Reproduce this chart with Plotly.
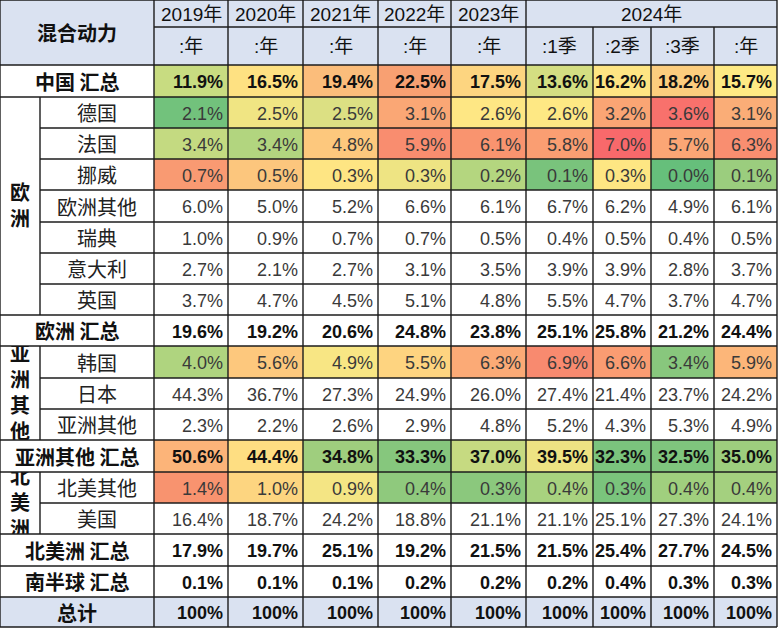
import plotly.graph_objects as go

# ---------------- data ----------------
title_cell = "混合动力"
year_labels = ["2019年", "2020年", "2021年", "2022年", "2023年", "2024年"]
period_labels = [":年", ":年", ":年", ":年", ":年", ":1季", ":2季", ":3季", ":年"]

row_labels = ["中国 汇总", "德国", "法国", "挪威", "欧洲其他", "瑞典", "意大利", "英国",
              "欧洲 汇总", "韩国", "日本", "亚洲其他", "亚洲其他 汇总", "北美其他", "美国",
              "北美洲 汇总", "南半球 汇总", "总计"]

china_total = [11.9, 16.5, 19.4, 22.5, 17.5, 13.6, 16.2, 18.2, 15.7]
germany = [2.1, 2.5, 2.5, 3.1, 2.6, 2.6, 3.2, 3.6, 3.1]
france = [3.4, 3.4, 4.8, 5.9, 6.1, 5.8, 7.0, 5.7, 6.3]
norway = [0.7, 0.5, 0.3, 0.3, 0.2, 0.1, 0.3, 0.0, 0.1]
europe_other = [6.0, 5.0, 5.2, 6.6, 6.1, 6.7, 6.2, 4.9, 6.1]
sweden = [1.0, 0.9, 0.7, 0.7, 0.5, 0.4, 0.5, 0.4, 0.5]
italy = [2.7, 2.1, 2.7, 3.1, 3.5, 3.9, 3.9, 2.8, 3.7]
uk = [3.7, 4.7, 4.5, 5.1, 4.8, 5.5, 4.7, 3.7, 4.7]
europe_total = [19.6, 19.2, 20.6, 24.8, 23.8, 25.1, 25.8, 21.2, 24.4]
korea = [4.0, 5.6, 4.9, 5.5, 6.3, 6.9, 6.6, 3.4, 5.9]
japan = [44.3, 36.7, 27.3, 24.9, 26.0, 27.4, 21.4, 23.7, 24.2]
asia_other = [2.3, 2.2, 2.6, 2.9, 4.8, 5.2, 4.3, 5.3, 4.9]
asia_other_total = [50.6, 44.4, 34.8, 33.3, 37.0, 39.5, 32.3, 32.5, 35.0]
na_other = [1.4, 1.0, 0.9, 0.4, 0.3, 0.4, 0.3, 0.4, 0.4]
usa = [16.4, 18.7, 24.2, 18.8, 21.1, 21.1, 25.1, 27.3, 24.1]
na_total = [17.9, 19.7, 25.1, 19.2, 21.5, 21.5, 25.4, 27.7, 24.5]
south_total = [0.1, 0.1, 0.1, 0.2, 0.2, 0.2, 0.4, 0.3, 0.3]
grand_total = [100, 100, 100, 100, 100, 100, 100, 100, 100]

row_values = [china_total, germany, france, norway, europe_other, sweden, italy, uk,
              europe_total, korea, japan, asia_other, asia_other_total, na_other, usa,
              na_total, south_total, grand_total]

# group label, first row index, last row index
groups = [("欧洲", 1, 7), ("亚洲其他", 9, 11), ("北美洲", 13, 14)]

# ---------------- styles / layout ----------------
heat_colors = {
    0: ["#C8DC81", "#FEE182", "#FBBD7B", "#F8A072", "#FDD580", "#D4DE82", "#FEE583", "#FCCD7E", "#FEEA84"],
    1: ["#72C27C", "#F0E583", "#DCE083", "#FAA775", "#FEE784", "#FEE884", "#FAA574", "#F8716C", "#FAAD77"],
    2: ["#C4DA81", "#B2D57F", "#FDC87D", "#F98D6F", "#F9946F", "#FA9E72", "#F8696B", "#FBA675", "#F98E70"],
    3: ["#F99A72", "#FCC67D", "#FEE583", "#EEE483", "#B4D67F", "#79C37C", "#FEE683", "#66BF7B", "#9BCD7E"],
    9: ["#AFD47F", "#FDC87D", "#F8E684", "#FED480", "#FBAA76", "#F88A6F", "#FA9C72", "#88C77D", "#FCB679"],
    12: ["#FCB479", "#FEDE82", "#9FCE7E", "#86C77D", "#C6DA81", "#EEE383", "#7BC47D", "#7FC57D", "#9DCE7E"],
    13: ["#F8936F", "#FDD580", "#F4E584", "#8FC97D", "#8BC87D", "#A8D27F", "#7AC47C", "#A0CF7E", "#A4D07F"],
}
HEADER_BG = "#DAE2F1"
LINE = "#1c1c1c"
W, H = 778, 629

x_edges = [154, 228, 303, 378, 451, 526, 593, 651, 714, 777]
sub_x = 40
header_y = [0, 27, 65]
row_y = [65, 97, 128, 159, 190, 222, 253, 284, 315, 346, 378, 409, 440, 472, 503, 534, 566, 597, 627]

CJK = "Noto Sans CJK SC"
NUM = "Liberation Sans, Arial, " + CJK

in_group = {}
for g, a, b in groups:
    for r in range(a, b + 1):
        in_group[r] = (g, a, b)

shapes = []
annotations = []


def rect(x0, x1, y0, y1, color):
    shapes.append(dict(type="rect", xref="x", yref="y", x0=x0, x1=x1, y0=y0, y1=y1,
                       fillcolor=color, line=dict(width=0), layer="above"))


def line(x0, y0, x1, y1):
    shapes.append(dict(type="line", xref="x", yref="y", x0=x0, x1=x1, y0=y0, y1=y1,
                       line=dict(color=LINE, width=1.4), layer="above"))


def text(x, y, s, size, anchor="center", color="#111", family=CJK):
    annotations.append(dict(x=x, y=y, xref="x", yref="y", text=s, showarrow=False,
                            xanchor=anchor, yanchor="middle",
                            font=dict(family=family, size=size, color=color)))


# ---- header ----
rect(0, x_edges[-1], header_y[0], header_y[2], HEADER_BG)
text(x_edges[0] / 2, (header_y[0] + header_y[2]) / 2, "<b>" + title_cell + "</b>", 20)
for i, lab in enumerate(year_labels[:5]):
    text((x_edges[i] + x_edges[i + 1]) / 2, (header_y[0] + header_y[1]) / 2 + 1, lab, 19, family=NUM)
text((x_edges[5] + x_edges[9]) / 2, (header_y[0] + header_y[1]) / 2 + 1, year_labels[5], 19, family=NUM)
for i, lab in enumerate(period_labels):
    text((x_edges[i] + x_edges[i + 1]) / 2, (header_y[1] + header_y[2]) / 2, lab, 19, family=NUM)

# ---- body ----
for r, (lab, vals) in enumerate(zip(row_labels, row_values)):
    y0, y1 = row_y[r], row_y[r + 1]
    yc = (y0 + y1) / 2
    is_total = r not in in_group
    is_grand = lab == "总计"
    # label cell fill
    if is_total:
        rect(0, x_edges[0], y0, y1, HEADER_BG if is_grand else "white")
        text(x_edges[0] / 2, yc, "<b>" + lab + "</b>", 20)
    else:
        rect(sub_x, x_edges[0], y0, y1, "white")
        text((sub_x + x_edges[0]) / 2, yc, lab, 20, color="#222")
    # value cells
    for c, v in enumerate(vals):
        cx0, cx1 = x_edges[c], x_edges[c + 1]
        if is_grand:
            fill = HEADER_BG
        elif r in heat_colors:
            fill = heat_colors[r][c]
        else:
            fill = "white"
        rect(cx0, cx1, y0, y1, fill)
        s = "100%" if v == 100 else f"{v:.1f}%"
        if is_total:
            text(cx1 - 3, yc + 1, "<b>" + s + "</b>", 18, anchor="right", color="#111", family=NUM)
        else:
            text(cx1 - 3, yc + 1, s, 18, anchor="right", color="#3a3a3a", family=NUM)

# ---- grid lines ----
right = x_edges[-1]
line(0, header_y[0], right, header_y[0])
line(x_edges[0], header_y[1], right, header_y[1])
for r, y in enumerate(row_y):
    # boundary between two rows of the same group starts at the sub column
    if r in in_group and (r - 1) in in_group and in_group[r][0] == in_group[r - 1][0]:
        line(sub_x, y, right, y)
    else:
        line(0, y, right, y)
line(0, header_y[0], 0, row_y[-1])
for i, x in enumerate(x_edges):
    if 6 <= i <= 8:
        line(x, header_y[1], x, row_y[-1])
    else:
        line(x, header_y[0], x, row_y[-1])
for g, a, b in groups:
    line(sub_x, row_y[a], sub_x, row_y[b + 1])

# ---- vertical group labels (trace, so the following cells clip them) ----
gx, gy, gt = [], [], []
for g, a, b in groups:
    gx.append(sub_x / 2)
    gy.append((row_y[a] + row_y[b + 1]) / 2 + 2)
    gt.append("<b>" + "<br>".join(list(g)) + "</b>")

fig = go.Figure(go.Scatter(x=gx, y=gy, text=gt, mode="text", textposition="middle center",
                           textfont=dict(family=CJK, size=20, color="#111"),
                           hoverinfo="skip", showlegend=False))

fig.update_layout(
    width=W, height=H, margin=dict(l=0, r=0, t=0, b=0),
    paper_bgcolor="white", plot_bgcolor="white",
    xaxis=dict(range=[0, W], visible=False, fixedrange=True),
    yaxis=dict(range=[H, 0], visible=False, fixedrange=True),
    shapes=shapes, annotations=annotations,
)
fig.write_html("out.html", config={"displayModeBar": False},
               post_script="document.body.style.margin='0';document.body.style.overflow='hidden';")
